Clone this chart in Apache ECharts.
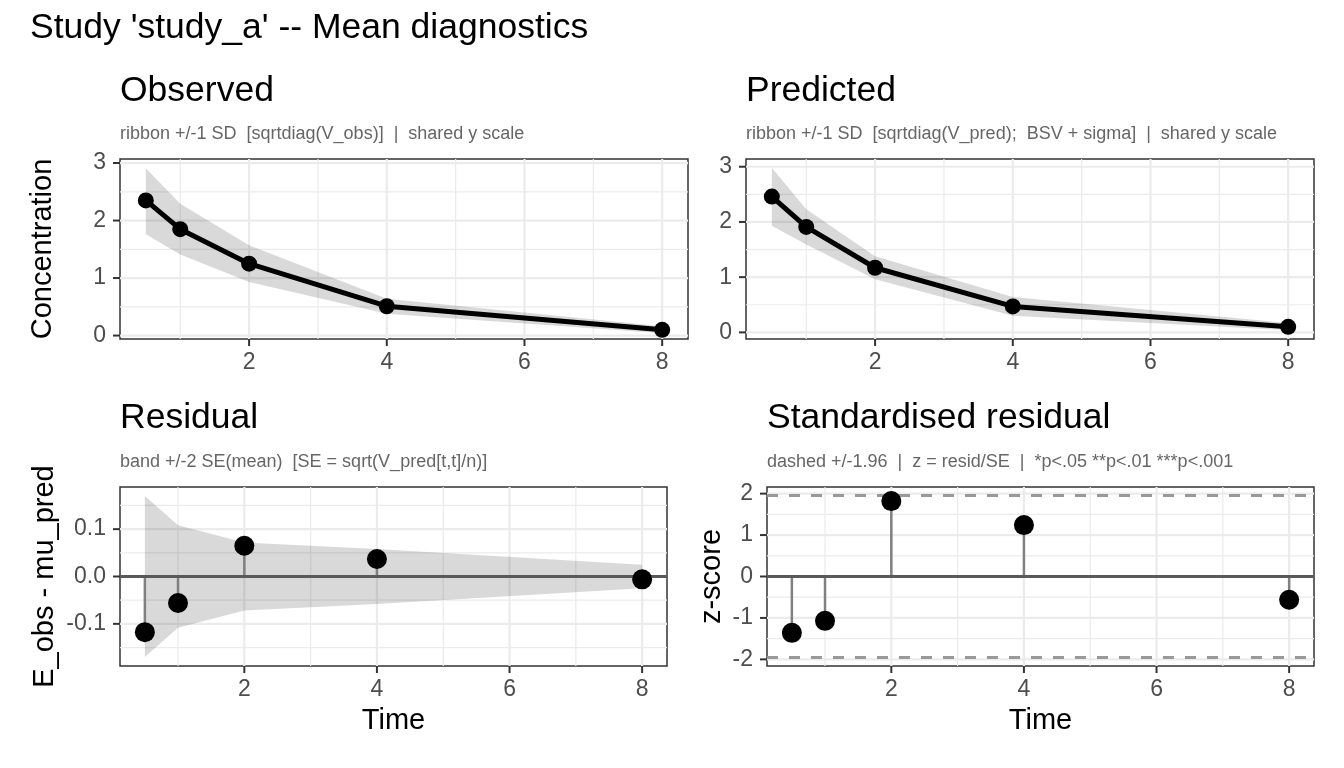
<!DOCTYPE html>
<html>
<head>
<meta charset="utf-8">
<script src="https://cdn.jsdelivr.net/npm/echarts@6/dist/echarts.min.js"></script>
<style>
  html, body { margin: 0; padding: 0; background: #fff; }
  #chart { width: 1344px; height: 768px; }
</style>
</head>
<body>
<div id="chart"></div>
<script>
// values
const times = [0.5, 1, 2, 4, 8]

const obsMean = [2.35, 1.85, 1.25, 0.51, 0.10]
const obsLo = [1.76, 1.41, 0.93, 0.38, 0.04]
const obsHi = [2.91, 2.29, 1.57, 0.64, 0.16]

const predMean = [2.46, 1.91, 1.17, 0.47, 0.10]
const predLo = [1.93, 1.59, 0.96, 0.30, 0.04]
const predHi = [2.98, 2.23, 1.38, 0.64, 0.17]

const resid = [-0.1176, -0.056, 0.065, 0.037, -0.006]
const residBand = [0.170, 0.108, 0.072, 0.058, 0.025]

const zScore = [-1.36, -1.07, 1.82, 1.24, -0.56]
const zCrit = 1.96

const xTicks = [2, 4, 6, 8]
const xMinor = [1, 3, 5, 7]
const concTicks = [0, 1, 2, 3]
const concMinor = [0.5, 1.5, 2.5]
const residTicks = [-0.1, 0, 0.1]
const residMinor = [-0.15, -0.05, 0.05, 0.15]
const zTicks = [-2, -1, 0, 1, 2]
const zMinor = [-1.5, -0.5, 0.5, 1.5]

const FONT = 'Liberation Sans, Arial, sans-serif'
const TICK_COLOR = '#4d4d4d'
const GRID_COLOR = '#ebebeb'
const TICK_LEN = 7

const chart = echarts.init(document.getElementById('chart'))

const grids = [
  { left: 120, top: 159, width: 568, height: 180 },
  { left: 746, top: 159, width: 568, height: 180 },
  { left: 120, top: 487, width: 547, height: 179 },
  { left: 767, top: 487, width: 547, height: 179 }
].map(g => ({ ...g, show: true, borderColor: '#333', borderWidth: 1.5 }))

const makeXAxis = (idx, name) => ({
  type: 'value',
  gridIndex: idx,
  min: 0.125,
  max: 8.375,
  name: name,
  nameLocation: 'middle',
  nameGap: 40,
  nameTextStyle: { fontFamily: FONT, fontSize: 29, color: '#000' },
  axisLine: { show: false },
  axisTick: { show: false },
  axisLabel: { customValues: xTicks, margin: 12, fontFamily: FONT, fontSize: 23, color: TICK_COLOR },
  splitLine: { show: false }
})

const makeYAxis = (idx, range, ticks, name, gap, fmt) => ({
  type: 'value',
  gridIndex: idx,
  min: range[0],
  max: range[1],
  name: name,
  nameLocation: 'middle',
  nameGap: gap,
  nameTextStyle: { fontFamily: FONT, fontSize: 29, color: '#000' },
  axisLine: { show: false },
  axisTick: { show: false },
  axisLabel: { customValues: ticks, margin: 14, fontFamily: FONT, fontSize: 23, color: TICK_COLOR, formatter: fmt },
  splitLine: { show: false }
})

// grid lines (major + minor), placed through the axes' scales
const gridLines = (idx, yMajor, yMinor) => ({
  type: 'custom',
  xAxisIndex: idx,
  yAxisIndex: idx,
  silent: true,
  clip: false,
  z: 1,
  data: [0],
  renderItem: (params, api) => {
    const cs = params.coordSys
    const children = []
    const seg = (x1, y1, x2, y2, color, w) => {
      children.push({ type: 'line', shape: { x1, y1, x2, y2 }, style: { stroke: color, lineWidth: w } })
    }
    const xPos = v => api.coord([v, 0])[0]
    const yPos = v => api.coord([1, v])[1]
    xMinor.forEach(v => seg(xPos(v), cs.y, xPos(v), cs.y + cs.height, GRID_COLOR, 1.2))
    yMinor.forEach(v => seg(cs.x, yPos(v), cs.x + cs.width, yPos(v), GRID_COLOR, 1.2))
    xTicks.forEach(v => seg(xPos(v), cs.y, xPos(v), cs.y + cs.height, GRID_COLOR, 2.2))
    yMajor.forEach(v => seg(cs.x, yPos(v), cs.x + cs.width, yPos(v), GRID_COLOR, 2.2))
    return { type: 'group', children }
  }
})

// outside tick marks, one item per tick value
const tickMarks = (idx, vals, dir) => ({
  type: 'custom',
  xAxisIndex: idx,
  yAxisIndex: idx,
  silent: true,
  clip: false,
  z: 6,
  data: vals.map(v => [v]),
  encode: { x: dir === 'x' ? 0 : -1, y: dir === 'y' ? 0 : -1 },
  renderItem: (params, api) => {
    const cs = params.coordSys
    const v = api.value(0)
    if (dir === 'x') {
      const x = api.coord([v, 1])[0]
      const y = cs.y + cs.height
      return { type: 'line', shape: { x1: x, y1: y, x2: x, y2: y + TICK_LEN }, style: { stroke: '#333', lineWidth: 2 } }
    }
    const y = api.coord([1, v])[1]
    return { type: 'line', shape: { x1: cs.x - TICK_LEN, y1: y, x2: cs.x, y2: y }, style: { stroke: '#333', lineWidth: 2 } }
  }
})

const ribbon = (idx, lo, hi) => ({
  type: 'custom',
  xAxisIndex: idx,
  yAxisIndex: idx,
  silent: true,
  z: 2,
  data: times.map((t, i) => [t, lo[i], hi[i]]),
  renderItem: (params, api) => {
    if (params.dataIndex !== 0) return
    const upper = times.map((t, i) => api.coord([t, hi[i]]))
    const lower = times.map((t, i) => api.coord([t, lo[i]])).reverse()
    return { type: 'polygon', shape: { points: upper.concat(lower) }, style: { fill: 'rgba(0,0,0,0.15)' } }
  }
})

const meanLine = (idx, values) => ({
  type: 'line',
  xAxisIndex: idx,
  yAxisIndex: idx,
  z: 4,
  data: times.map((t, i) => [t, values[i]]),
  symbol: 'circle',
  symbolSize: 16,
  showSymbol: true,
  clip: false,
  lineStyle: { color: '#000', width: 5 },
  itemStyle: { color: '#000', opacity: 1 }
})

const stems = (idx, values, refLines) => ({
  type: 'custom',
  xAxisIndex: idx,
  yAxisIndex: idx,
  silent: true,
  z: 3,
  data: times.map((t, i) => [t, values[i]]),
  renderItem: (params, api) => {
    const p0 = api.coord([api.value(0), 0])
    const p1 = api.coord([api.value(0), api.value(1)])
    return { type: 'line', shape: { x1: p0[0], y1: p0[1], x2: p1[0], y2: p1[1] }, style: { stroke: '#808080', lineWidth: 2.5 } }
  },
  markLine: {
    silent: true,
    symbol: ['none', 'none'],
    label: { show: false },
    data: refLines
  }
})

const points = (idx, values) => ({
  type: 'scatter',
  xAxisIndex: idx,
  yAxisIndex: idx,
  z: 5,
  clip: false,
  symbolSize: 20,
  itemStyle: { color: '#000', opacity: 1 },
  data: times.map((t, i) => [t, values[i]])
})

const zeroLine = { yAxis: 0, lineStyle: { color: '#595959', width: 3, type: 'solid' } }
const critLine = v => ({ yAxis: v, lineStyle: { color: '#999', width: 3, type: [11, 11] } })

const textItem = (x, y, text, size, color) => ({
  type: 'text',
  x: x,
  y: y,
  style: { text: text, fontFamily: FONT, fontSize: size, fill: color, verticalAlign: 'middle', align: 'left' }
})

const option = {
  animation: false,
  backgroundColor: '#fff',
  grid: grids,
  xAxis: [makeXAxis(0, ''), makeXAxis(1, ''), makeXAxis(2, 'Time'), makeXAxis(3, 'Time')],
  yAxis: [
    makeYAxis(0, [-0.06, 3.07], concTicks, 'Concentration', 63),
    makeYAxis(1, [-0.12, 3.14], concTicks, '', 40),
    makeYAxis(2, [-0.189, 0.189], residTicks, 'E_obs - mu_pred', 61, v => v.toFixed(1)),
    makeYAxis(3, [-2.16, 2.16], zTicks, 'z-score', 41)
  ],
  graphic: [
    textItem(30, 28, "Study 'study_a' -- Mean diagnostics", 35.5, '#000'),
    textItem(120, 91, 'Observed', 35.5, '#000'),
    textItem(120, 134, 'ribbon +/-1 SD  [sqrtdiag(V_obs)]  |  shared y scale', 18, '#666'),
    textItem(746, 91, 'Predicted', 35.5, '#000'),
    textItem(746, 134, 'ribbon +/-1 SD  [sqrtdiag(V_pred);  BSV + sigma]  |  shared y scale', 18, '#666'),
    textItem(120, 418, 'Residual', 35.5, '#000'),
    textItem(120, 462, 'band +/-2 SE(mean)  [SE = sqrt(V_pred[t,t]/n)]', 18, '#666'),
    textItem(767, 418, 'Standardised residual', 35.5, '#000'),
    textItem(767, 462, 'dashed +/-1.96  |  z = resid/SE  |  *p<.05 **p<.01 ***p<.001', 18, '#666')
  ],
  series: [
    gridLines(0, concTicks, concMinor),
    ribbon(0, obsLo, obsHi),
    meanLine(0, obsMean),
    tickMarks(0, xTicks, 'x'),
    tickMarks(0, concTicks, 'y'),

    gridLines(1, concTicks, concMinor),
    ribbon(1, predLo, predHi),
    meanLine(1, predMean),
    tickMarks(1, xTicks, 'x'),
    tickMarks(1, concTicks, 'y'),

    gridLines(2, residTicks, residMinor),
    ribbon(2, residBand.map(v => -v), residBand),
    stems(2, resid, [zeroLine]),
    points(2, resid),
    tickMarks(2, xTicks, 'x'),
    tickMarks(2, residTicks, 'y'),

    gridLines(3, zTicks, zMinor),
    stems(3, zScore, [critLine(zCrit), critLine(-zCrit), zeroLine]),
    points(3, zScore),
    tickMarks(3, xTicks, 'x'),
    tickMarks(3, zTicks, 'y')
  ]
}

chart.setOption(option)
</script>
</body>
</html>
